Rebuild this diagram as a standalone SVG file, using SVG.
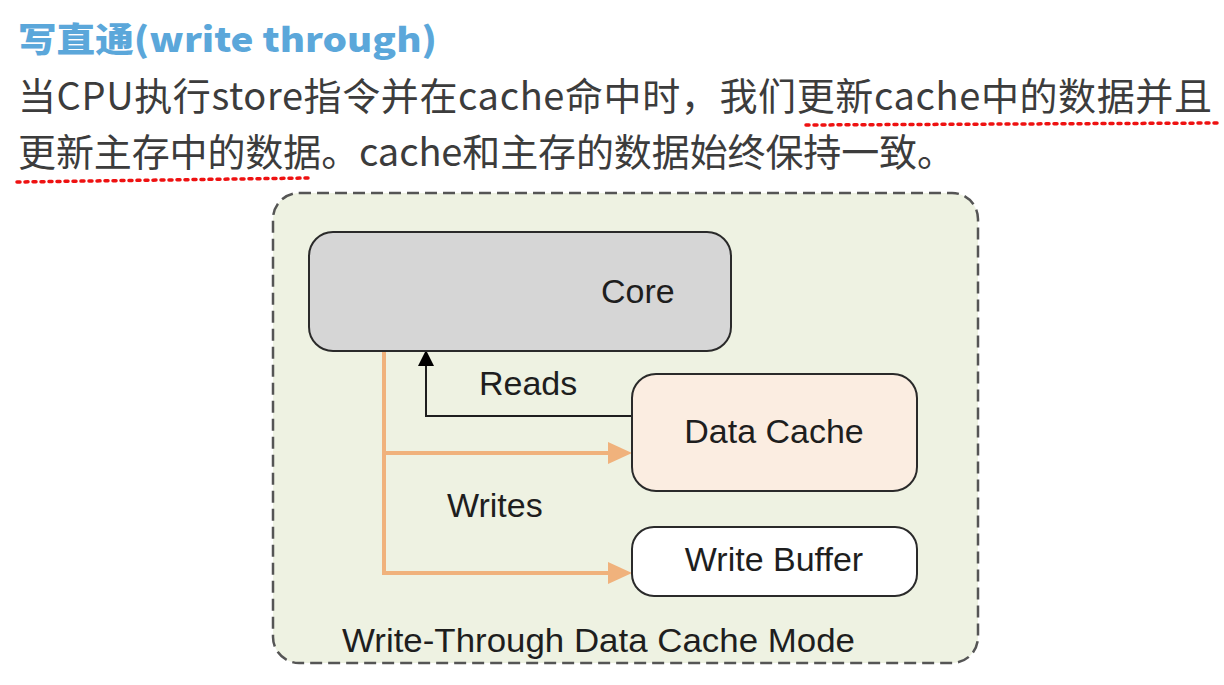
<svg xmlns="http://www.w3.org/2000/svg" width="1224" height="685" viewBox="0 0 1224 685">
<style>
.cn{font-family:"Noto Sans CJK SC","Microsoft YaHei",sans-serif;font-size:38px;fill:#3c3c3c}
.title{font-family:"Noto Sans CJK SC",sans-serif;font-size:34px;font-weight:900;fill:#5ba7da}
.lbl{font-family:"Liberation Sans",Arial,sans-serif;font-size:34px;fill:#1e1e1e}
.node{stroke:#2a2a2a;stroke-width:2}
.red{stroke:#ee1111;stroke-width:3.5;stroke-dasharray:3 5;stroke-linecap:round;fill:none}
.wr{stroke:#f0b27c;stroke-width:4;fill:none}
.oh{fill:#f0b27c}
</style>
<rect width="1224" height="685" fill="#ffffff"/>
<g id="header">
<text class="title" x="18" y="52" textLength="419" lengthAdjust="spacingAndGlyphs">写直通(write through)</text>
<text class="cn" x="18" y="110" textLength="1194" lengthAdjust="spacing">当CPU执行store指令并在cache命中时，我们更新cache中的数据并且</text>
<text class="cn" x="18" y="166" textLength="937" lengthAdjust="spacing">更新主存中的数据。cache和主存的数据始终保持一致。</text>
<line class="red" x1="806" y1="125" x2="1220" y2="123"/>
<line class="red" x1="17" y1="182" x2="309" y2="178"/>
</g>
<g id="frame">
<rect x="273" y="193" width="705" height="470" rx="26" fill="#eef2e2" stroke="#555555" stroke-width="2.5" stroke-dasharray="12 6"/>
<text class="lbl" x="342" y="652" textLength="513" lengthAdjust="spacingAndGlyphs">Write-Through Data Cache Mode</text>
</g>
<g id="connectors">
<polyline points="632,416 426,416 426,366" fill="none" stroke="#1e1e1e" stroke-width="2"/>
<polygon points="426,350 418,366 434,366" fill="#000000"/>
<polyline class="wr" points="384,351 384,573 612,573"/>
<line class="wr" x1="384" y1="453" x2="612" y2="453"/>
<polygon class="oh" points="632,453 608,442 608,464"/>
<polygon class="oh" points="632,573 608,562 608,584"/>
<text class="lbl" x="479" y="395">Reads</text>
<text class="lbl" x="447" y="517">Writes</text>
</g>
<g id="core">
<rect class="node" x="309" y="232" width="422" height="119" rx="24" fill="#d6d6d6"/>
<text class="lbl" x="601" y="303">Core</text>
</g>
<g id="data-cache">
<rect class="node" x="632" y="374" width="285" height="117" rx="24" fill="#fbede1"/>
<text class="lbl" x="774" y="443" text-anchor="middle">Data Cache</text>
</g>
<g id="write-buffer">
<rect class="node" x="632" y="527" width="285" height="69" rx="22" fill="#ffffff"/>
<text class="lbl" x="774" y="571" text-anchor="middle">Write Buffer</text>
</g>
</svg>
